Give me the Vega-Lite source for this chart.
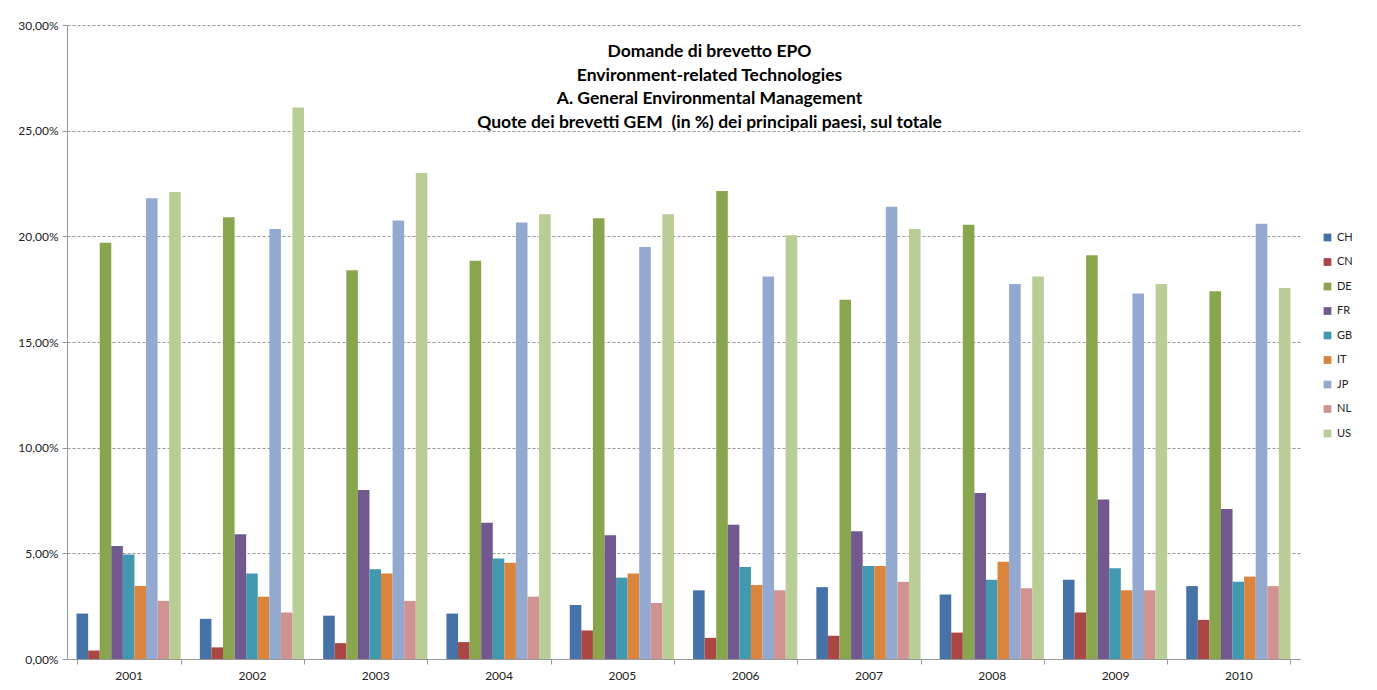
{
  "$schema": "https://vega.github.io/schema/vega-lite/v6.json",
  "width": 1233,
  "height": 634,
  "autosize": {"type": "none"},
  "padding": {"left": 67, "top": 25, "right": 77, "bottom": 31},
  "background": "white",
  "config": {
    "locale": {"number": {"decimal": ",", "thousands": ".", "grouping": [3], "currency": ["€", ""]}},
    "view": {"stroke": null},
    "font": "Lato"
  },
  "title": {
    "text": ["Domande di brevetto EPO", "Environment-related Technologies", "A. General Environmental Management", "Quote dei brevetti GEM \u00a0(in %) dei principali paesi, sul totale"],
    "orient": "top",
    "anchor": "middle",
    "baseline": "top",
    "offset": -112,
    "dx": 26,
    "fontSize": 17.5,
    "fontWeight": "bold",
    "font": "Lato",
    "color": "#000000",
    "lineHeight": 23.5
  },
  "data": {
    "values": [
      {"year": "2001", "country": "CH", "value": 0.0215},
      {"year": "2001", "country": "CN", "value": 0.0040},
      {"year": "2001", "country": "DE", "value": 0.1970},
      {"year": "2001", "country": "FR", "value": 0.0535},
      {"year": "2001", "country": "GB", "value": 0.0495},
      {"year": "2001", "country": "IT", "value": 0.0345},
      {"year": "2001", "country": "JP", "value": 0.2180},
      {"year": "2001", "country": "NL", "value": 0.0275},
      {"year": "2001", "country": "US", "value": 0.2210},
      {"year": "2002", "country": "CH", "value": 0.0190},
      {"year": "2002", "country": "CN", "value": 0.0055},
      {"year": "2002", "country": "DE", "value": 0.2090},
      {"year": "2002", "country": "FR", "value": 0.0590},
      {"year": "2002", "country": "GB", "value": 0.0405},
      {"year": "2002", "country": "IT", "value": 0.0295},
      {"year": "2002", "country": "JP", "value": 0.2035},
      {"year": "2002", "country": "NL", "value": 0.0220},
      {"year": "2002", "country": "US", "value": 0.2610},
      {"year": "2003", "country": "CH", "value": 0.0205},
      {"year": "2003", "country": "CN", "value": 0.0075},
      {"year": "2003", "country": "DE", "value": 0.1840},
      {"year": "2003", "country": "FR", "value": 0.0800},
      {"year": "2003", "country": "GB", "value": 0.0425},
      {"year": "2003", "country": "IT", "value": 0.0405},
      {"year": "2003", "country": "JP", "value": 0.2075},
      {"year": "2003", "country": "NL", "value": 0.0275},
      {"year": "2003", "country": "US", "value": 0.2300},
      {"year": "2004", "country": "CH", "value": 0.0215},
      {"year": "2004", "country": "CN", "value": 0.0080},
      {"year": "2004", "country": "DE", "value": 0.1885},
      {"year": "2004", "country": "FR", "value": 0.0645},
      {"year": "2004", "country": "GB", "value": 0.0475},
      {"year": "2004", "country": "IT", "value": 0.0455},
      {"year": "2004", "country": "JP", "value": 0.2065},
      {"year": "2004", "country": "NL", "value": 0.0295},
      {"year": "2004", "country": "US", "value": 0.2105},
      {"year": "2005", "country": "CH", "value": 0.0255},
      {"year": "2005", "country": "CN", "value": 0.0135},
      {"year": "2005", "country": "DE", "value": 0.2085},
      {"year": "2005", "country": "FR", "value": 0.0585},
      {"year": "2005", "country": "GB", "value": 0.0385},
      {"year": "2005", "country": "IT", "value": 0.0405},
      {"year": "2005", "country": "JP", "value": 0.1950},
      {"year": "2005", "country": "NL", "value": 0.0265},
      {"year": "2005", "country": "US", "value": 0.2105},
      {"year": "2006", "country": "CH", "value": 0.0325},
      {"year": "2006", "country": "CN", "value": 0.0100},
      {"year": "2006", "country": "DE", "value": 0.2215},
      {"year": "2006", "country": "FR", "value": 0.0635},
      {"year": "2006", "country": "GB", "value": 0.0435},
      {"year": "2006", "country": "IT", "value": 0.0350},
      {"year": "2006", "country": "JP", "value": 0.1810},
      {"year": "2006", "country": "NL", "value": 0.0325},
      {"year": "2006", "country": "US", "value": 0.2005},
      {"year": "2007", "country": "CH", "value": 0.0340},
      {"year": "2007", "country": "CN", "value": 0.0110},
      {"year": "2007", "country": "DE", "value": 0.1700},
      {"year": "2007", "country": "FR", "value": 0.0605},
      {"year": "2007", "country": "GB", "value": 0.0440},
      {"year": "2007", "country": "IT", "value": 0.0440},
      {"year": "2007", "country": "JP", "value": 0.2140},
      {"year": "2007", "country": "NL", "value": 0.0365},
      {"year": "2007", "country": "US", "value": 0.2035},
      {"year": "2008", "country": "CH", "value": 0.0305},
      {"year": "2008", "country": "CN", "value": 0.0125},
      {"year": "2008", "country": "DE", "value": 0.2055},
      {"year": "2008", "country": "FR", "value": 0.0785},
      {"year": "2008", "country": "GB", "value": 0.0375},
      {"year": "2008", "country": "IT", "value": 0.0460},
      {"year": "2008", "country": "JP", "value": 0.1775},
      {"year": "2008", "country": "NL", "value": 0.0335},
      {"year": "2008", "country": "US", "value": 0.1810},
      {"year": "2009", "country": "CH", "value": 0.0375},
      {"year": "2009", "country": "CN", "value": 0.0220},
      {"year": "2009", "country": "DE", "value": 0.1910},
      {"year": "2009", "country": "FR", "value": 0.0755},
      {"year": "2009", "country": "GB", "value": 0.0430},
      {"year": "2009", "country": "IT", "value": 0.0325},
      {"year": "2009", "country": "JP", "value": 0.1730},
      {"year": "2009", "country": "NL", "value": 0.0325},
      {"year": "2009", "country": "US", "value": 0.1775},
      {"year": "2010", "country": "CH", "value": 0.0345},
      {"year": "2010", "country": "CN", "value": 0.0185},
      {"year": "2010", "country": "DE", "value": 0.1740},
      {"year": "2010", "country": "FR", "value": 0.0710},
      {"year": "2010", "country": "GB", "value": 0.0365},
      {"year": "2010", "country": "IT", "value": 0.0390},
      {"year": "2010", "country": "JP", "value": 0.2060},
      {"year": "2010", "country": "NL", "value": 0.0345},
      {"year": "2010", "country": "US", "value": 0.1755}
    ]
  },
  "mark": {"type": "bar"},
  "encoding": {
    "x": {
      "field": "year", "type": "nominal",
      "scale": {"paddingInner": 0.155, "paddingOuter": 0.0775},
      "axis": {
        "title": null, "labelAngle": 0, "labelFontSize": 12, "labelColor": "#222222",
        "labelFont": "Lato", "domainColor": "#999999", "tickColor": "#999999",
        "tickBand": "extent", "tickSize": 5, "labelPadding": 6, "grid": false
      }
    },
    "xOffset": {"field": "country", "type": "nominal", "scale": {"paddingInner": 0, "paddingOuter": 0}},
    "y": {
      "field": "value", "type": "quantitative",
      "scale": {"domain": [0, 0.3], "nice": false},
      "axis": {
        "title": null, "format": ".2%", "values": [0, 0.05, 0.1, 0.15, 0.2, 0.25, 0.3],
        "labelFontSize": 12, "labelColor": "#222222", "labelFont": "Lato",
        "domainColor": "#999999", "tickColor": "#999999", "tickSize": 5, "labelPadding": 4,
        "grid": true, "gridColor": "#999999", "gridDash": [3, 2], "gridWidth": 1
      }
    },
    "color": {
      "field": "country", "type": "nominal",
      "scale": {
        "domain": ["CH", "CN", "DE", "FR", "GB", "IT", "JP", "NL", "US"],
        "range": ["#4572A7", "#AA4643", "#89A54E", "#71588F", "#4198AF", "#DB843D", "#93A9CF", "#D19392", "#B9CD96"]
      },
      "legend": {
        "title": null, "orient": "none", "legendX": 1255, "legendY": 207,
        "symbolType": "square", "symbolSize": 60, "labelFontSize": 11, "labelFont": "Lato",
        "labelColor": "#222222", "rowPadding": 12.5, "symbolStrokeWidth": 0
      }
    }
  }
}
